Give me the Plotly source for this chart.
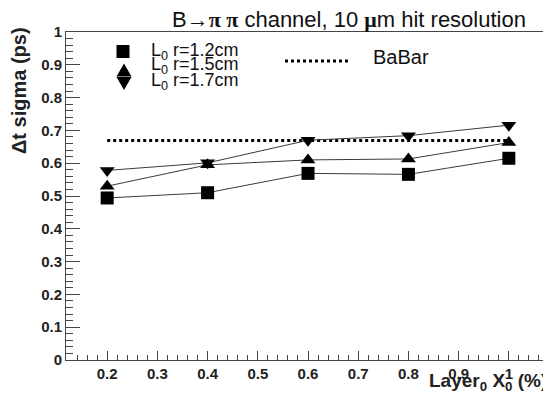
import plotly.graph_objects as go

# ---- data ----
layer_x0 = [0.2, 0.4, 0.6, 0.8, 1.0]
sigma_r12 = [0.494, 0.510, 0.569, 0.566, 0.615]
sigma_r15 = [0.530, 0.595, 0.610, 0.613, 0.663]
sigma_r17 = [0.578, 0.601, 0.670, 0.684, 0.716]
babar_x = [0.2, 1.0]
babar_y = [0.669, 0.669]

x_tickvals = [0.2, 0.3, 0.4, 0.5, 0.6, 0.7, 0.8, 0.9, 1.0]
x_ticktext = ["0.2", "0.3", "0.4", "0.5", "0.6", "0.7", "0.8", "0.9", "1"]
y_tickvals = [0, 0.1, 0.2, 0.3, 0.4, 0.5, 0.6, 0.7, 0.8, 0.9, 1.0]
y_ticktext = ["0", "0.1", "0.2", "0.3", "0.4", "0.5", "0.6", "0.7", "0.8", "0.9", "1"]

series_labels = ["L<sub>0</sub> r=1.2cm", "L<sub>0</sub> r=1.5cm", "L<sub>0</sub> r=1.7cm"]

# page body has an 8px margin: the figure is shrunk and offset so window coords match
OFF = 8
W, H = 551 - OFF, 399 - OFF
ML, MT = 66 - OFF, 32 - OFF
MR, MB = 6, 39
PW, PH = W - ML - MR, H - MT - MB


def px(x):  # x in window pixels -> paper
    return (x - 66) / PW


def py(y):  # y in window pixels -> paper
    return (360 - y) / PH


FONT = "Liberation Sans, Arial, sans-serif"
LINE_C = "#3a3a3a"

fig = go.Figure()
fig.add_trace(go.Scatter(x=babar_x, y=babar_y, mode="lines",
                         line=dict(color="black", width=3, dash="dot"), showlegend=False))
for ys, sym in [(sigma_r12, "square"), (sigma_r15, "triangle-up"), (sigma_r17, "triangle-down")]:
    fig.add_trace(go.Scatter(x=layer_x0, y=ys, mode="lines+markers",
                             line=dict(color=LINE_C, width=1),
                             marker=dict(symbol=sym, size=13, color="black"),
                             showlegend=False))

axis_common = dict(showline=True, linecolor="#444", linewidth=1, mirror=True,
                   showgrid=False, zeroline=False, ticks="inside", tickcolor="#444",
                   tickfont=dict(family=FONT, size=15, color="#222"))

fig.update_xaxes(range=[0.118, 1.072], tickvals=x_tickvals,
                 ticktext=["<b>%s</b>" % t for t in x_ticktext],
                 ticklen=9, minor=dict(dtick=0.02, tick0=0, ticks="inside", ticklen=5, tickcolor="#444"),
                 **axis_common)
fig.update_yaxes(range=[0, 1.0], tickvals=y_tickvals,
                 ticktext=["<b>%s</b>" % t for t in y_ticktext],
                 ticklen=14, minor=dict(dtick=0.02, tick0=0, ticks="inside", ticklen=7, tickcolor="#444"),
                 **axis_common)

ann = []
# title
ann.append(dict(x=px(528), y=py(20), xref="paper", yref="paper", xanchor="right", yanchor="middle",
                showarrow=False, font=dict(family=FONT, size=22, color="#111"),
                text="B→<span style=\"font-family:Liberation Serif\"><b>π π</b></span> channel, 10 "
                     "<span style=\"font-family:Liberation Serif\"><b>μ</b></span>m hit resolution"))
# y title
ann.append(dict(x=px(19), y=py(91), xref="paper", yref="paper", xanchor="center", yanchor="middle",
                textangle=-90, showarrow=False, font=dict(family=FONT, size=20, color="#222"),
                text="<b>Δt sigma (ps)</b>"))
# x title
ann.append(dict(x=px(427), y=py(382), xref="paper", yref="paper", xanchor="left", yanchor="middle",
                showarrow=False, font=dict(family=FONT, size=19, color="#222"),
                text="<b>Layer<sub>0</sub> X<sub>0</sub> (%)</b>"))
# legend texts
for lbl, yc in zip(series_labels, [51, 66, 81]):
    ann.append(dict(x=px(149), y=py(yc), xref="paper", yref="paper", xanchor="left", yanchor="middle",
                    showarrow=False, font=dict(family=FONT, size=18, color="#111"), text=lbl))
ann.append(dict(x=px(371), y=py(57), xref="paper", yref="paper", xanchor="left", yanchor="middle",
                showarrow=False, font=dict(family=FONT, size=20, color="#111"), text="BaBar"))

shapes = []
# legend markers (pixel-sized, anchored in paper coords)
shapes.append(dict(type="rect", xref="paper", yref="paper", xsizemode="pixel", ysizemode="pixel",
                   xanchor=px(123), yanchor=py(51.5), x0=-6.5, x1=6.5, y0=-6.5, y1=6.5,
                   fillcolor="black", line=dict(width=0)))
shapes.append(dict(type="path", xref="paper", yref="paper", xsizemode="pixel", ysizemode="pixel",
                   xanchor=px(124), yanchor=py(70), path="M -7.5 -6.5 L 7.5 -6.5 L 0 6.5 Z",
                   fillcolor="black", line=dict(width=0)))
shapes.append(dict(type="path", xref="paper", yref="paper", xsizemode="pixel", ysizemode="pixel",
                   xanchor=px(124), yanchor=py(83.5), path="M -7.5 6.5 L 7.5 6.5 L 0 -6.5 Z",
                   fillcolor="black", line=dict(width=0)))
# legend dotted line
shapes.append(dict(type="line", xref="paper", yref="paper", x0=px(285), x1=px(350), y0=py(61), y1=py(61),
                   line=dict(color="black", width=3, dash="dot")))

fig.update_layout(width=W, height=H, margin=dict(l=ML, r=MR, t=MT, b=MB),
                  paper_bgcolor="white", plot_bgcolor="white",
                  annotations=ann, shapes=shapes)

fig.write_html("out.html")
